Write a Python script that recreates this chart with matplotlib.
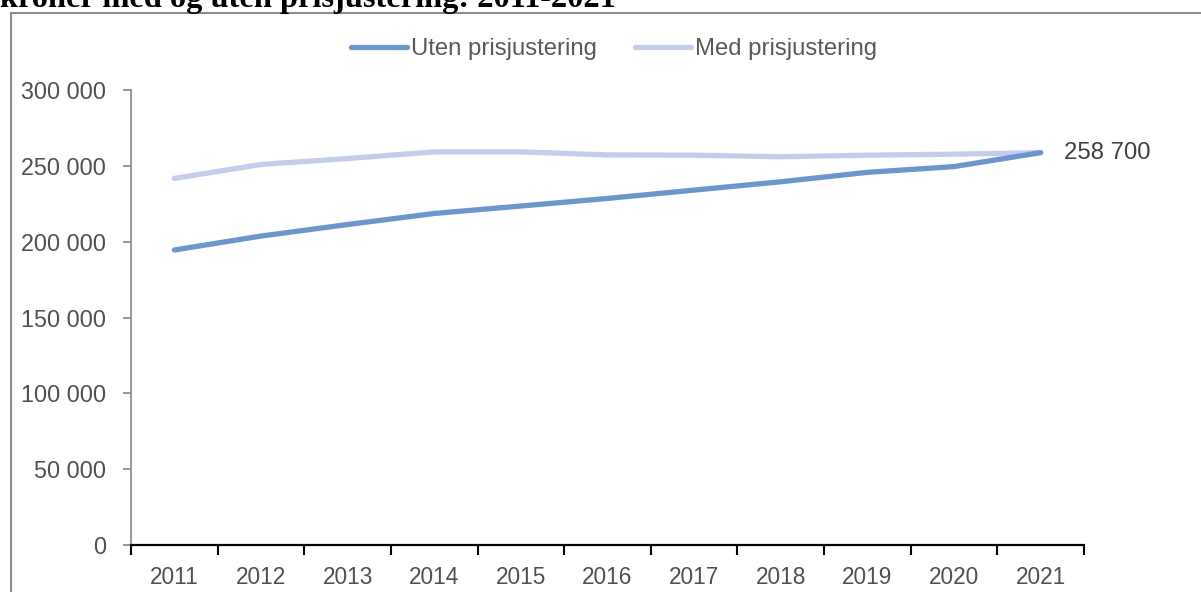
import matplotlib
matplotlib.use("Agg")
import matplotlib.pyplot as plt
from matplotlib.lines import Line2D
from matplotlib.ticker import FuncFormatter

# data
years = ["2011", "2012", "2013", "2014", "2015", "2016",
         "2017", "2018", "2019", "2020", "2021"]
uten = [194500, 203700, 211300, 218600, 223500, 228500,
        234000, 239500, 245700, 249500, 258700]
med = [241700, 250900, 254800, 259200, 259200, 257200,
       257000, 256000, 257000, 257700, 258700]
yticks = [0, 50000, 100000, 150000, 200000, 250000, 300000]
title = "kroner med og uten prisjustering: 2011-2021"
end_label = "258 700"

plt.rcParams['font.family'] = ['Liberation Sans', 'DejaVu Sans']

fig = plt.figure(figsize=(12.01, 5.92), dpi=100)
ax = fig.add_axes([131 / 1201, 1 - 545 / 592, (1084 - 131) / 1201, (545 - 90) / 592])

x = list(range(len(years)))
ax.plot(x, uten, color='#6f96cc', linewidth=3.8, solid_capstyle='round',
        label='Uten prisjustering', zorder=3)
ax.plot(x, med, color='#c4cde9', linewidth=3.8, solid_capstyle='round',
        label='Med prisjustering', zorder=2)

ax.annotate(end_label, (x[-1], uten[-1]), xytext=(16.5, 0), textcoords='offset points',
            va='center', ha='left', fontsize=17.2, color='#404040')

# axes styling
ax.set_xlim(-0.5, len(years) - 0.5)
ax.set_ylim(0, 300000)
ax.set_yticks(yticks)
ax.yaxis.set_major_formatter(FuncFormatter(lambda v, p: f"{int(v):,}".replace(",", " ")))
ax.set_xticks([i - 0.5 for i in range(len(years) + 1)])
ax.set_xticklabels([])
ax.set_xticks(x, minor=True)
ax.set_xticklabels(years, minor=True)

ax.tick_params(axis='y', length=6, width=1.2, color='#868686', labelsize=16.8,
               labelcolor='#505050', pad=12)
ax.tick_params(axis='x', which='major', length=7, width=1.5, color='black')
ax.tick_params(axis='x', which='minor', length=0, labelsize=16.3,
               labelcolor='#505050', pad=15)

for side in ['top', 'right']:
    ax.spines[side].set_visible(False)
ax.spines['left'].set_color('#868686')
ax.spines['left'].set_linewidth(1.2)
ax.spines['bottom'].set_color('black')
ax.spines['bottom'].set_linewidth(1.6)

ax.legend(loc='center', bbox_to_anchor=(614 / 1201, 1 - 49 / 592),
          bbox_transform=fig.transFigure, ncol=2, frameon=False,
          fontsize=17.2, handlelength=2.35, handletextpad=0.15, columnspacing=1.6,
          labelcolor='#595959')

# outer frame, cut by the image edge
fx, fy = 10.5 / 1201, 1 - 13 / 592
fig.add_artist(Line2D([fx, fx], [-0.1, fy], color='#8c8c8c', linewidth=1.5,
                      transform=fig.transFigure))
fig.add_artist(Line2D([fx, 1.1], [fy, fy], color='#8c8c8c', linewidth=1.5,
                      transform=fig.transFigure))

# title, partly cut off at the top
fig.text(0.0, 1 - 7 / 592, title, family=['Liberation Serif', 'DejaVu Serif'],
         fontweight='bold', fontsize=23.3, va='baseline', ha='left', color='black')

fig.savefig('out.png', dpi=100, facecolor='white')
